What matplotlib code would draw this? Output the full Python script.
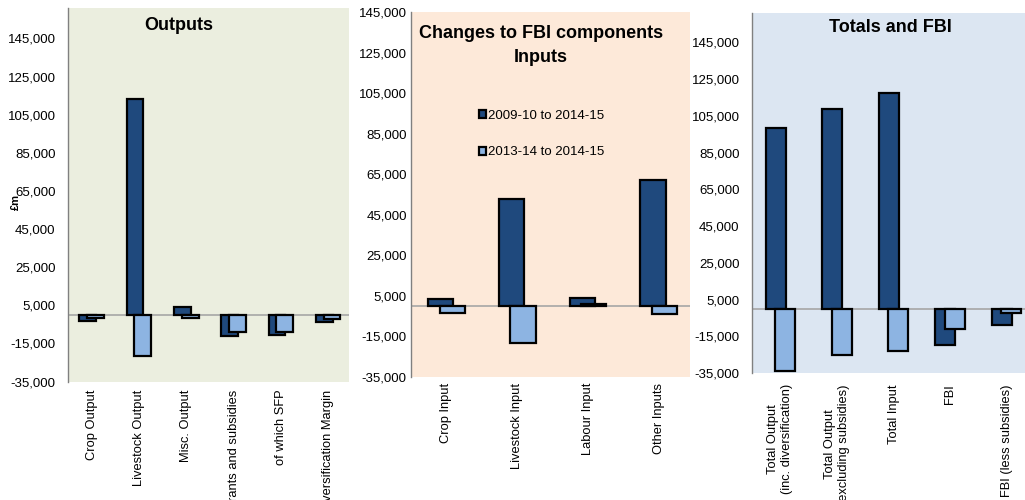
import matplotlib
matplotlib.use("Agg")
import matplotlib.pyplot as plt
from matplotlib.ticker import FuncFormatter
import numpy as np

plt.rcParams['font.family'] = ['Liberation Sans', 'DejaVu Sans']

series_names = ["2009-10 to 2014-15", "2013-14 to 2014-15"]

out_cats = ["Crop Output", "Livestock Output", "Misc. Output",
            "Grants and subsidies", "of which SFP", "Diversification Margin"]
out_a = [-3500, 113000, 4000, -11000, -10500, -4000]
out_b = [-1600, -21400, -1600, -9100, -8800, -2300]

in_cats = ["Crop Input", "Livestock Input", "Labour Input", "Other Inputs"]
in_a = [3400, 53000, 4200, 62300]
in_b = [-3500, -18200, 1100, -4000]

tot_cats = ["Total Output\n(inc. diversification)", "Total Output\n(excluding subsidies)",
            "Total Input", "FBI", "FBI (less subsidies)"]
tot_a = [98200, 108600, 117500, -19800, -9000]
tot_b = [-33700, -25200, -23000, -11200, -2200]

yticks = [-35000, -15000, 5000, 25000, 45000, 65000, 85000, 105000, 125000, 145000]

DARK = "#1F497D"
LIGHT = "#8DB4E2"
W, H = 1025, 500

fig = plt.figure(figsize=(W / 100, H / 100), dpi=100)


def make_ax(x0, w, top, bottom, bg):
    ax = fig.add_axes([x0 / W, 1 - bottom / H, w / W, (bottom - top) / H])
    ax.set_facecolor(bg)
    return ax


def draw(ax, cats, a, b, ylim, xright, ypad, xpad):
    x = np.arange(len(cats))
    bw = 0.355
    off = 0.0825
    ax.axhline(0, color="#A6A6A6", lw=1.2, zorder=1)
    h1 = ax.bar(x - off, a, width=bw, color=DARK, edgecolor="black", lw=1.6, zorder=2,
                label=series_names[0])
    h2 = ax.bar(x + off, b, width=bw, color=LIGHT, edgecolor="black", lw=1.6, zorder=3,
                label=series_names[1])
    ax.set_xlim(-0.5, xright)
    ax.set_ylim(*ylim)
    ax.set_yticks(yticks)
    ax.yaxis.set_major_formatter(FuncFormatter(lambda v, p: f"{int(v):,}"))
    ax.set_xticks(x)
    ax.set_xticklabels(cats, rotation=90, fontsize=9.3, multialignment="center")
    ax.tick_params(axis="y", length=0, labelsize=9.5, pad=ypad)
    ax.tick_params(axis="x", length=0, pad=xpad)
    for s in ["top", "right", "bottom"]:
        ax.spines[s].set_visible(False)
    ax.spines["left"].set_color("#808080")
    ax.spines["left"].set_linewidth(1.0)
    return h1, h2


ax1 = make_ax(68, 281, 8, 381.5, "#EBEEDF")
draw(ax1, out_cats, out_a, out_b, (-35000, 161000), -0.5 + 281 / 47.3, 9, 6)

ax2 = make_ax(411, 279, 12, 377, "#FDE9D9")
h1, h2 = draw(ax2, in_cats, in_a, in_b, (-35000, 145000), -0.5 + 279 / 70.8, 3, 4)

ax3 = make_ax(752, 283, 13, 373, "#DCE6F2")
draw(ax3, tot_cats, tot_a, tot_b, (-35000, 161000), 4.5, 9, 8)

leg = fig.legend(handles=[h1, h2], labels=series_names, loc="upper left",
                 bbox_to_anchor=(479 / W, 1 - 110 / H), frameon=False, fontsize=9.5,
                 handlelength=0.55, handleheight=0.55, handletextpad=0.15,
                 labelspacing=1.85, borderpad=0, borderaxespad=0)

fig.text(179 / W, 1 - 30 / H, "Outputs", ha="center", va="baseline",
         fontsize=13, fontweight="bold")
fig.text(541 / W, 1 - 38 / H, "Changes to FBI components", ha="center", va="baseline",
         fontsize=13, fontweight="bold")
fig.text(541 / W, 1 - 62 / H, "Inputs", ha="center", va="baseline",
         fontsize=13, fontweight="bold")
fig.text(890 / W, 1 - 31.5 / H, "Totals and FBI", ha="center", va="baseline",
         fontsize=13, fontweight="bold")
fig.text(16 / W, 1 - 202 / H, "£m", ha="center", va="center", rotation=90,
         fontsize=8, fontweight="bold")

fig.savefig("out.png", dpi=100)
